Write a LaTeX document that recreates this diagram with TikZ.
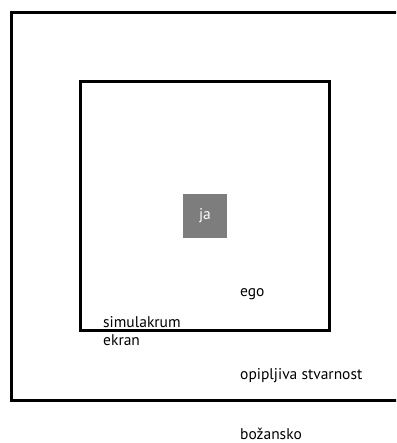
\documentclass[tikz,border=0pt]{standalone}
\usepackage{fontspec}
\setmainfont{PT Sans}
\usetikzlibrary{positioning}
\definecolor{jagray}{RGB}{125,125,125}
\begin{document}
\begin{tikzpicture}[x=1pt,y=-1pt,font=\fontsize{15.5}{18}\selectfont,inner sep=0pt,
  frame/.style={draw,line width=3pt,minimum width=#1,minimum height=#1},
  lbl/.style={anchor=base west,text depth=0pt}]
\useasboundingbox (0,0) rectangle (396,443);
\clip (0,0) rectangle (396,443);
% the two frames
\node[frame=387pt,minimum width=409pt] (world) at (216,206.5) {};
\node[frame=248pt,minimum width=249pt] (screen) at (205,206) {};
\node[fill=jagray,text=white,minimum size=44pt] (ja) at (205,216) {ja};
% labels
\node[lbl] (ego) at (240,296.5) {ego};
\node[lbl] (simul) at (103,327.3) {simulakrum};
\node[lbl] (ekran) at (103,345.7) {ekran};
\node[lbl] (opip) at (240,379) {opipljiva stvarnost};
\node[lbl] (boz) at (240,439.5) {božansko};
\end{tikzpicture}
\end{document}
